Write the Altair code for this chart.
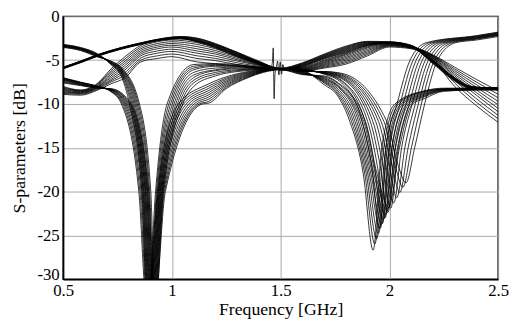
import altair as alt
import pandas as pd

X_TICKS = [0.5, 1, 1.5, 2, 2.5]
Y_TICKS = [-30, -25, -20, -15, -10, -5, 0]
X_TITLE = "Frequency [GHz]"
Y_TITLE = "S-parameters [dB]"

# Each family: list of columns (x, y); a list holds one value per curve, a scalar is shared.
FAM_A = [
    (0.50, [-3.2, -3.25, -3.3, -3.3, -3.35, -3.4, -3.4, -3.45, -3.5, -3.55]),
    (0.58, [-3.55, -3.6, -3.65, -3.65, -3.7, -3.75, -3.75, -3.8, -3.85, -3.9]),
    (0.66, [-4.3, -4.35, -4.4, -4.4, -4.45, -4.5, -4.5, -4.55, -4.6, -4.65]),
    (0.72, [-5.5, -5.45, -5.4, -5.35, -5.3, -5.25, -5.25, -5.2, -5.15, -5.1]),
    (0.77, [-7.0, -6.8, -6.6, -6.5, -6.4, -6.3, -6.2, -6.1, -6.0, -5.9]),
    ([0.805, 0.811, 0.816, 0.821, 0.826, 0.831, 0.836, 0.841, 0.846, 0.851], -10),
    ([0.862, 0.867, 0.871, 0.876, 0.880, 0.885, 0.889, 0.894, 0.898, 0.903], -20),
    ([0.888, 0.892, 0.896, 0.900, 0.904, 0.908, 0.912, 0.916, 0.920, 0.924], -34),
    ([0.925, 0.929, 0.933, 0.937, 0.941, 0.945, 0.949, 0.953, 0.957, 0.961], -20),
    ([0.978, 0.986, 0.994, 1.002, 1.010, 1.018, 1.026, 1.034, 1.042, 1.050], -10),
    (1.10, [-5.5, -5.7, -5.9, -6.1, -6.4, -6.7, -7.0, -7.3, -7.6, -8.0]),
    (1.20, [-5.4, -5.5, -5.6, -5.7, -5.9, -6.1, -6.2, -6.4, -6.6, -6.8]),
    (1.30, [-5.5, -5.6, -5.65, -5.7, -5.8, -5.9, -6.0, -6.1, -6.2, -6.3]),
    (1.40, [-5.8, -5.8, -5.85, -5.9, -5.9, -5.95, -6.0, -6.0, -6.05, -6.1]),
    (1.50, [-5.95, -6.0, -6.0, -6.0, -6.0, -6.05, -6.0, -6.0, -6.05, -6.0]),
    (1.60, [-6.05, -6.1, -6.1, -6.15, -6.15, -6.2, -6.2, -6.25, -6.25, -6.3]),
    (1.70, [-6.6, -6.55, -6.5, -6.5, -6.45, -6.4, -6.4, -6.35, -6.3, -6.3]),
    (1.78, [-7.6, -7.4, -7.3, -7.1, -7.0, -6.9, -6.8, -6.7, -6.6, -6.5]),
    ([1.875, 1.888, 1.900, 1.912, 1.924, 1.937, 1.950, 1.962, 1.975, 1.988], -12),
    ([1.918, 1.931, 1.944, 1.957, 1.970, 1.984, 1.998, 2.012, 2.026, 2.040], -17),
    ([1.955, 1.968, 1.980, 1.993, 2.006, 2.020, 2.034, 2.048, 2.062, 2.076],
     [-24.2, -23.6, -23.0, -22.4, -21.9, -21.3, -20.7, -20.1, -19.5, -19.0]),
    ([1.985, 1.999, 2.013, 2.027, 2.041, 2.056, 2.071, 2.086, 2.101, 2.116], -15),
    ([2.035, 2.049, 2.063, 2.077, 2.091, 2.105, 2.119, 2.133, 2.147, 2.162], -10),
    ([2.095, 2.109, 2.123, 2.137, 2.151, 2.165, 2.179, 2.193, 2.207, 2.221], -5),
    ([2.170, 2.185, 2.200, 2.215, 2.230, 2.245, 2.260, 2.275, 2.290, 2.305], -3),
    (2.40, [-2.2, -2.25, -2.3, -2.35, -2.4, -2.45, -2.5, -2.55, -2.6, -2.7]),
    (2.50, [-1.8, -1.85, -1.9, -1.95, -2.0, -2.05, -2.1, -2.15, -2.2, -2.3]),
]

FAM_D = [
    (0.50, [-7.0, -7.05, -7.1, -7.15, -7.2, -7.25, -7.3, -7.4, -7.5, -7.6]),
    (0.58, [-7.5, -7.55, -7.55, -7.6, -7.65, -7.7, -7.75, -7.8, -7.85, -7.9]),
    (0.66, [-8.0, -8.0, -8.0, -8.05, -8.05, -8.1, -8.1, -8.15, -8.2, -8.2]),
    (0.72, [-8.6, -8.55, -8.5, -8.45, -8.4, -8.4, -8.35, -8.3, -8.3, -8.25]),
    ([0.768, 0.773, 0.778, 0.783, 0.788, 0.793, 0.798, 0.803, 0.808, 0.813], -10),
    ([0.848, 0.853, 0.858, 0.863, 0.868, 0.873, 0.878, 0.883, 0.888, 0.893], -20),
    ([0.884, 0.888, 0.892, 0.896, 0.900, 0.904, 0.908, 0.912, 0.916, 0.920], -33),
    ([0.934, 0.938, 0.942, 0.946, 0.950, 0.954, 0.958, 0.962, 0.966, 0.970], -20),
    ([1.030, 1.042, 1.054, 1.066, 1.078, 1.090, 1.102, 1.114, 1.126, 1.140], -10),
    (1.17, [-7.7, -7.95, -8.2, -8.45, -8.7, -8.95, -9.2, -9.45, -9.7, -9.9]),
    (1.25, [-6.9, -7.05, -7.2, -7.35, -7.5, -7.65, -7.8, -7.95, -8.1, -8.25]),
    (1.35, [-6.3, -6.38, -6.46, -6.54, -6.62, -6.7, -6.78, -6.86, -6.94, -7.0]),
    (1.42, [-6.1, -6.13, -6.16, -6.19, -6.22, -6.25, -6.28, -6.31, -6.34, -6.4]),
    (1.50, [-6.0, -6.0, -6.05, -6.0, -6.05, -6.0, -6.05, -6.0, -6.05, -6.1]),
    (1.60, [-6.2, -6.25, -6.3, -6.35, -6.4, -6.45, -6.5, -6.55, -6.6, -6.65]),
    (1.70, [-7.8, -7.6, -7.5, -7.4, -7.3, -7.2, -7.1, -7.0, -6.9, -6.8]),
    (1.76, [-9.0, -8.8, -8.6, -8.4, -8.2, -8.0, -7.9, -7.8, -7.6, -7.5]),
    ([1.818, 1.826, 1.834, 1.842, 1.850, 1.858, 1.866, 1.874, 1.882, 1.890], -12),
    ([1.880, 1.887, 1.894, 1.901, 1.908, 1.915, 1.922, 1.929, 1.936, 1.943], -18),
    ([1.925, 1.933, 1.941, 1.949, 1.957, 1.965, 1.973, 1.981, 1.989, 1.997],
     [-26.7, -26.0, -25.4, -24.8, -24.2, -23.7, -23.2, -22.7, -22.2, -21.8]),
    ([1.965, 1.974, 1.983, 1.992, 2.001, 2.010, 2.019, 2.028, 2.037, 2.046], -15),
    ([2.025, 2.034, 2.043, 2.052, 2.061, 2.070, 2.079, 2.088, 2.097, 2.106], -10),
    (2.16, [-8.5, -8.55, -8.6, -8.7, -8.8, -8.9, -9.0, -9.1, -9.2, -9.4]),
    (2.25, [-8.2, -8.25, -8.3, -8.3, -8.35, -8.4, -8.4, -8.45, -8.5, -8.55]),
    (2.40, [-8.2, -8.2, -8.25, -8.25, -8.3, -8.3, -8.35, -8.35, -8.4, -8.4]),
    (2.50, [-8.1, -8.15, -8.2, -8.2, -8.25, -8.25, -8.3, -8.3, -8.35, -8.4]),
]

FAM_B = [
    (0.50, [-5.8, -5.82, -5.84, -5.86, -5.88, -5.9, -5.92, -5.94, -5.96, -6.0]),
    (0.58, [-5.1, -5.12, -5.14, -5.16, -5.18, -5.2, -5.22, -5.24, -5.26, -5.3]),
    (0.66, [-4.35, -4.37, -4.39, -4.41, -4.43, -4.45, -4.47, -4.49, -4.51, -4.55]),
    (0.76, [-3.6, -3.62, -3.64, -3.66, -3.68, -3.7, -3.72, -3.74, -3.76, -3.8]),
    (0.86, [-3.0, -3.02, -3.04, -3.06, -3.08, -3.1, -3.12, -3.14, -3.16, -3.2]),
    (0.96, [-2.5, -2.52, -2.54, -2.56, -2.58, -2.6, -2.62, -2.64, -2.66, -2.7]),
    (1.04, [-2.3, -2.33, -2.36, -2.39, -2.42, -2.45, -2.48, -2.51, -2.54, -2.57]),
    (1.12, [-2.5, -2.55, -2.6, -2.65, -2.7, -2.75, -2.8, -2.85, -2.9, -2.95]),
    (1.20, [-3.1, -3.15, -3.2, -3.26, -3.32, -3.38, -3.44, -3.5, -3.56, -3.62]),
    (1.30, [-4.1, -4.15, -4.2, -4.26, -4.32, -4.38, -4.44, -4.5, -4.56, -4.62]),
    (1.40, [-5.2, -5.22, -5.25, -5.28, -5.31, -5.34, -5.37, -5.4, -5.43, -5.46]),
    (1.50, [-5.9, -5.95, -6.0, -6.0, -6.05, -6.0, -6.05, -6.1, -6.0, -6.05]),
    (1.60, [-5.3, -5.35, -5.4, -5.45, -5.5, -5.55, -5.6, -5.65, -5.7, -5.75]),
    (1.70, [-4.3, -4.37, -4.44, -4.5, -4.56, -4.62, -4.68, -4.74, -4.8, -4.86]),
    (1.80, [-3.4, -3.48, -3.56, -3.64, -3.72, -3.8, -3.88, -3.96, -4.04, -4.12]),
    (1.90, [-2.85, -2.9, -2.95, -3.0, -3.05, -3.1, -3.15, -3.2, -3.25, -3.3]),
    (2.00, [-2.9, -2.92, -2.94, -2.96, -2.98, -3.0, -3.02, -3.04, -3.06, -3.1]),
    (2.10, [-3.3, -3.32, -3.34, -3.36, -3.38, -3.4, -3.42, -3.44, -3.46, -3.5]),
    (2.20, [-5.0, -5.04, -5.08, -5.12, -5.16, -5.2, -5.24, -5.28, -5.32, -5.4]),
    (2.30, [-7.0, -7.04, -7.08, -7.12, -7.16, -7.2, -7.24, -7.28, -7.32, -7.4]),
    (2.38, [-8.0, -8.03, -8.06, -8.09, -8.12, -8.15, -8.18, -8.21, -8.24, -8.3]),
    (2.50, [-8.2, -8.22, -8.24, -8.26, -8.28, -8.3, -8.32, -8.34, -8.36, -8.4]),
]

FAM_C = [
    (0.50, [-8.0, -8.1, -8.2, -8.3, -8.4, -8.5, -8.6, -8.7, -8.8, -8.9]),
    (0.58, [-8.4, -8.45, -8.5, -8.55, -8.6, -8.7, -8.75, -8.8, -8.9, -9.0]),
    (0.66, [-7.6, -7.7, -7.8, -7.9, -8.0, -8.05, -8.1, -8.2, -8.3, -8.4]),
    (0.72, [-6.0, -6.2, -6.4, -6.6, -6.8, -7.0, -7.2, -7.35, -7.5, -7.7]),
    (0.785, [-4.6, -4.85, -5.1, -5.35, -5.6, -5.85, -6.1, -6.4, -6.7, -7.0]),
    (0.857, [-3.3, -3.5, -3.7, -3.9, -4.1, -4.3, -4.5, -4.75, -5.0, -5.2]),
    (0.934, [-2.7, -2.9, -3.1, -3.3, -3.5, -3.7, -3.95, -4.2, -4.5, -4.8]),
    (1.00, [-2.5, -2.7, -2.9, -3.1, -3.3, -3.5, -3.75, -4.0, -4.3, -4.6]),
    (1.115, [-2.8, -3.0, -3.2, -3.45, -3.7, -3.95, -4.2, -4.5, -4.8, -5.2]),
    (1.20, [-3.3, -3.5, -3.7, -3.9, -4.1, -4.3, -4.55, -4.8, -5.05, -5.4]),
    (1.30, [-4.1, -4.3, -4.5, -4.65, -4.8, -4.95, -5.1, -5.3, -5.5, -5.7]),
    (1.40, [-5.1, -5.2, -5.3, -5.4, -5.5, -5.55, -5.6, -5.7, -5.8, -5.9]),
    (1.50, [-6.0, -5.95, -6.0, -6.05, -6.0, -6.05, -6.1, -6.0, -6.05, -6.1]),
    (1.60, [-5.8, -5.85, -5.9, -5.95, -6.0, -6.05, -6.1, -6.15, -6.2, -6.25]),
    (1.70, [-5.0, -5.1, -5.2, -5.3, -5.4, -5.5, -5.6, -5.7, -5.8, -5.9]),
    (1.80, [-4.2, -4.3, -4.4, -4.55, -4.7, -4.85, -5.0, -5.15, -5.3, -5.45]),
    (1.90, [-3.3, -3.4, -3.5, -3.6, -3.75, -3.9, -4.05, -4.2, -4.35, -4.5]),
    (2.00, [-3.0, -3.05, -3.1, -3.15, -3.2, -3.25, -3.3, -3.35, -3.4, -3.5]),
    (2.10, [-3.4, -3.43, -3.46, -3.49, -3.52, -3.55, -3.58, -3.61, -3.64, -3.7]),
    (2.20, [-4.4, -4.45, -4.5, -4.55, -4.6, -4.7, -4.75, -4.8, -4.9, -5.0]),
    (2.30, [-5.8, -6.0, -6.2, -6.4, -6.6, -6.8, -7.0, -7.3, -7.6, -8.0]),
    (2.40, [-7.2, -7.5, -7.8, -8.1, -8.4, -8.7, -9.0, -9.4, -9.8, -10.2]),
    (2.50, [-8.5, -8.9, -9.3, -9.7, -10.1, -10.5, -10.9, -11.3, -11.7, -12.1]),
]

GLITCH_F = [1.44, 1.455, 1.462, 1.466, 1.470, 1.474, 1.48, 1.486, 1.492, 1.498, 1.504, 1.51, 1.518, 1.53, 1.55]
GLITCH_DB = [-5.9, -5.95, -5.2, -3.6, -9.4, -6.6, -5.9, -5.1, -6.7, -5.2, -6.6, -5.5, -6.1, -5.9, -6.0]


def build(name, cols, n=10):
    rows = []
    for i in range(n):
        for k, (xs, ys) in enumerate(cols):
            x = xs[i] if isinstance(xs, list) else xs
            y = ys[i] if isinstance(ys, list) else ys
            rows.append({"curve": f"{name}{i}", "k": k, "f": x, "db": y})
    return rows


rows = []
for nm, fam in [("A", FAM_A), ("D", FAM_D), ("B", FAM_B), ("C", FAM_C)]:
    rows += build(nm, fam)
for k, (x, y) in enumerate(zip(GLITCH_F, GLITCH_DB)):
    rows.append({"curve": "G", "k": k, "f": x, "db": y})
df = pd.DataFrame(rows)

FONT = "Liberation Serif, Times New Roman, serif"

chart = (
    alt.Chart(df)
    .mark_line(color="black", strokeWidth=0.8, interpolate="monotone", clip=True)
    .encode(
        x=alt.X(
            "f:Q",
            scale=alt.Scale(domain=[0.5, 2.5], nice=False, zero=False),
            axis=alt.Axis(
                values=X_TICKS,
                labelExpr="'' + datum.value",
                title=X_TITLE,
                grid=True,
                ticks=False,
                labelFlush=False,
                labelPadding=4,
                titlePadding=2,
            ),
        ),
        y=alt.Y(
            "db:Q",
            scale=alt.Scale(domain=[-30, 0], nice=False, zero=False),
            axis=alt.Axis(
                values=Y_TICKS,
                labelExpr="'' + datum.value",
                title=Y_TITLE,
                grid=True,
                ticks=False,
                labelFlush=False,
                labelBaseline={"expr": "datum.value == -30 ? 'alphabetic' : 'middle'"},
                labelPadding=4,
                titlePadding=9,
            ),
        ),
        detail="curve:N",
        order="k:Q",
    )
    .properties(
        width=442,
        height=267,
        padding={"left": 56, "top": 6, "right": 11, "bottom": 40},
        autosize=alt.AutoSizeParams(type="none"),
    )
    .configure(font=FONT)
    .configure_view(stroke="black", strokeWidth=1.5)
    .configure_axis(
        labelFont=FONT,
        titleFont=FONT,
        labelFontSize=17,
        titleFontSize=18,
        labelColor="black",
        titleColor="black",
        titleFontWeight="normal",
        gridColor="#a8a8a8",
        gridWidth=1,
        domainColor="black",
        domainWidth=1.5,
    )
)

chart.save("out.html", embed_options={"renderer": "svg", "actions": False})
